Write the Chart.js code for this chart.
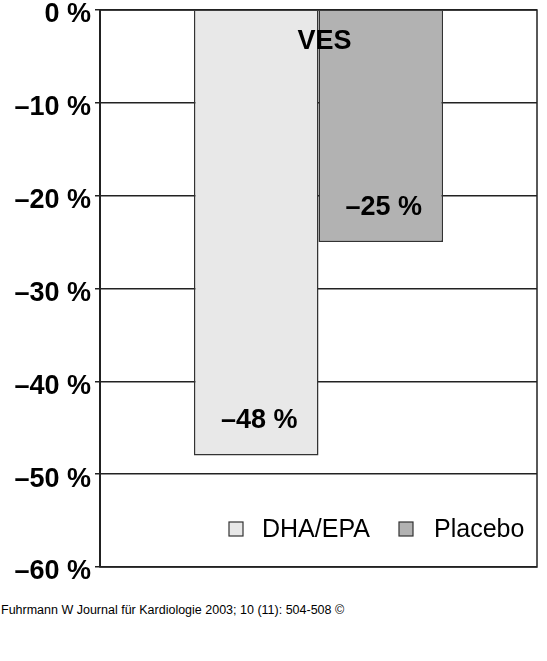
<!DOCTYPE html>
<html>
<head>
<meta charset="utf-8">
<script src="https://cdn.jsdelivr.net/npm/chart.js@4/dist/chart.umd.min.js"></script>
<style>
  html,body{margin:0;padding:0;background:#fff;}
  #wrap{position:relative;width:547px;height:600px;}
  #foot{font-family:Arial,"Liberation Sans",sans-serif;font-size:12.5px;color:#000;margin:3px 0 0 1px;}
</style>
</head>
<body>
<div id="wrap"><canvas id="c" width="547" height="600"></canvas></div>
<div id="foot">Fuhrmann W Journal für Kardiologie 2003; 10 (11): 504-508 ©</div>
<script>
// Daten
const categories = ['VES'];
const seriesNames = ['DHA/EPA', 'Placebo'];
const dhaValues = [-48];
const placeboValues = [-25];
const tickValues = [0, -10, -20, -30, -40, -50, -60];

const FONT = 'Arial, "Liberation Sans", sans-serif';
const fillCols = ['#e8e8e8', '#b2b2b2'];

// Titel, Wertelabels, Legende und Rahmen direkt auf den Canvas
const overlay = {
  id:'overlay',
  afterDatasetsDraw(chart){
    const {ctx, chartArea:a} = chart;
    ctx.save();
    // Rahmen
    ctx.strokeStyle = '#222'; ctx.lineWidth = 1.5;
    ctx.strokeRect(a.left, a.top, a.right-a.left, a.bottom-a.top);

    // Wertelabels
    ctx.fillStyle = '#000';
    ctx.font = 'bold 27px '+FONT;
    ctx.textAlign = 'center'; ctx.textBaseline = 'middle';
    chart.data.datasets.forEach((ds,i)=>{
      const bar = chart.getDatasetMeta(i).data[0];
      ctx.fillText('\u2013'+Math.abs(ds.data[0])+' %', bar.x+3, bar.y-35);
    });

    // Titel
    const cx = chart.scales.x.getPixelForValue(0);
    ctx.fillText(categories[0], cx+6, 42);

    // Legende
    ctx.font = '25px '+FONT;
    ctx.textAlign = 'left';
    const ly = 529;
    const items = [{x:229, tx:262}, {x:399, tx:434}];
    items.forEach((it,i)=>{
      ctx.fillStyle = fillCols[i];
      ctx.fillRect(it.x, ly-7, 14, 14);
      ctx.strokeStyle = '#333'; ctx.lineWidth = 1.2;
      ctx.strokeRect(it.x, ly-7, 14, 14);
      ctx.fillStyle = '#000';
      ctx.fillText(seriesNames[i], it.tx, ly+1);
    });
    ctx.restore();
  }
};

new Chart(document.getElementById('c'), {
  type:'bar',
  data:{
    labels: categories,
    datasets:[
      {label:seriesNames[0], data:dhaValues, backgroundColor:fillCols[0], borderColor:'#333', borderWidth:1.5,
       barPercentage:1, categoryPercentage:0.57},
      {label:seriesNames[1], data:placeboValues, backgroundColor:fillCols[1], borderColor:'#333', borderWidth:1.5,
       barPercentage:1, categoryPercentage:0.57}
    ]
  },
  options:{
    responsive:false, animation:false,
    layout:{padding:{top:10, right:10, bottom:33, left:0}},
    plugins:{legend:{display:false}, tooltip:{enabled:false}},
    scales:{
      x:{display:false},
      y:{
        min:-60, max:0,
        afterBuildTicks(s){ s.ticks = tickValues.map(v=>({value:v})); },
        afterFit(s){ s.width = 100; s.paddingTop = 0; s.paddingBottom = 0; },
        border:{display:true, color:'#222', width:2},
        grid:{color:'#222', lineWidth:1.5, tickLength:5, drawTicks:true},
        ticks:{
          color:'#000', padding:4, labelOffset:5,
          font:{family:FONT, size:27, weight:'bold'},
          callback:v=> v===0 ? '0 %' : '\u2013'+Math.abs(v)+' %'
        }
      }
    }
  },
  plugins:[overlay]
});
</script>
</body>
</html>
